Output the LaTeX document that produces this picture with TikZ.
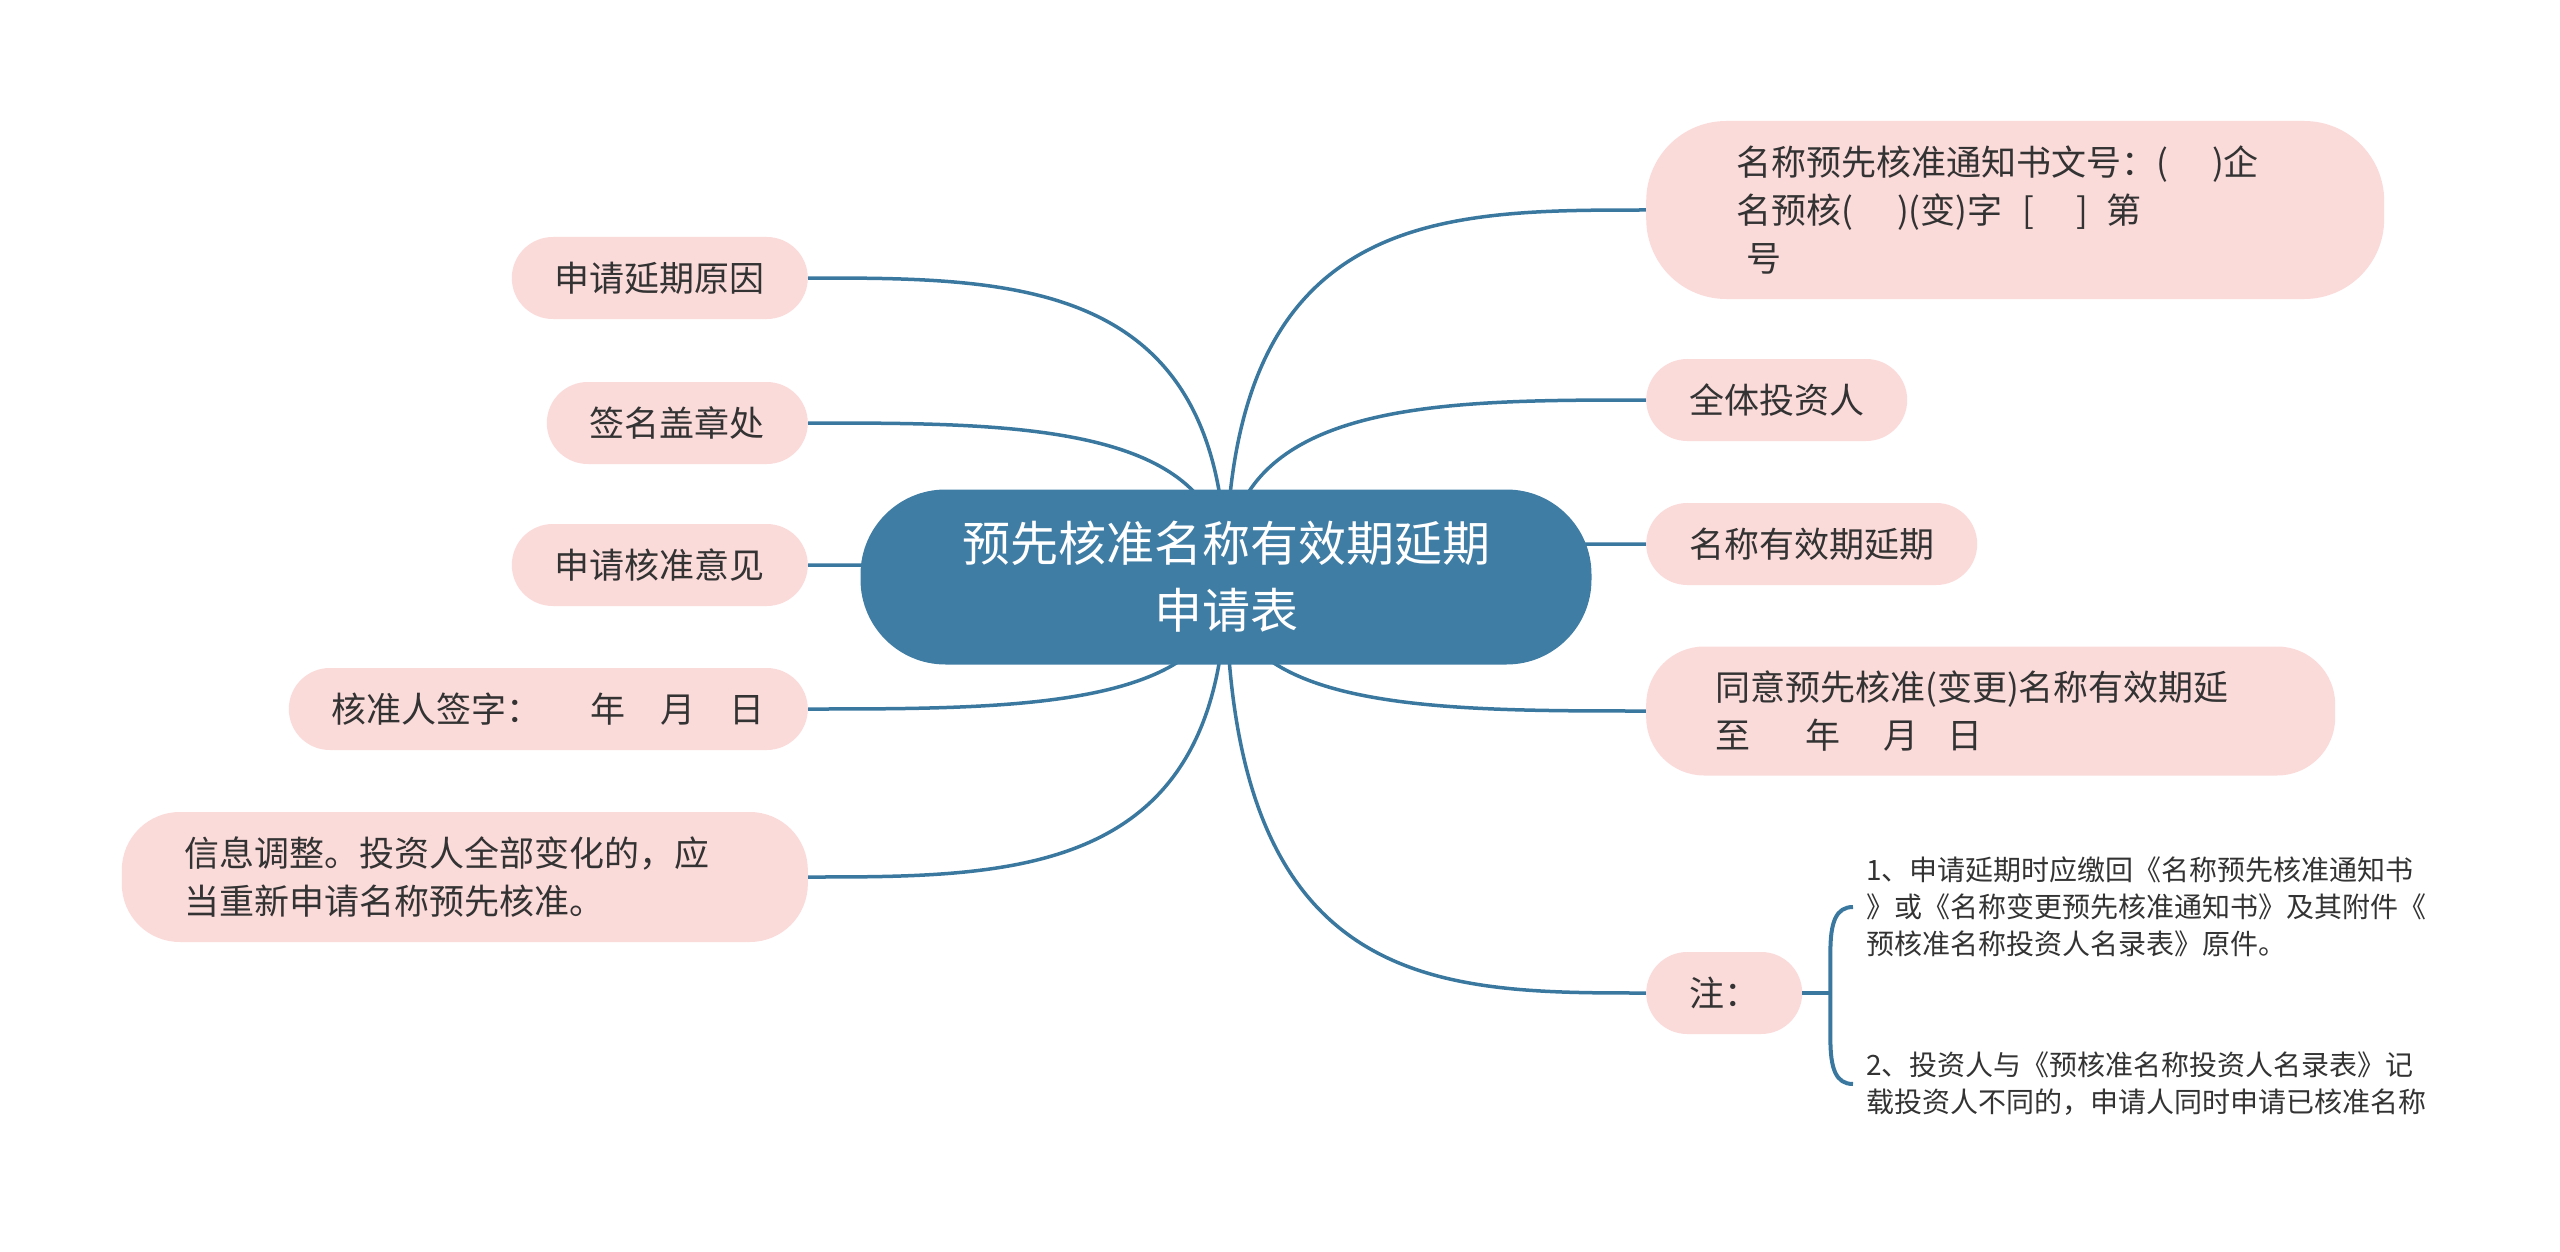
\documentclass[tikz,border=0pt]{standalone}
\usepackage{fontspec}
\setmainfont{Noto Sans CJK SC}
\usetikzlibrary{positioning, calc, backgrounds}
\definecolor{rootblue}{HTML}{3F7DA5}
\definecolor{linkblue}{HTML}{3B78A0}
\definecolor{leafpink}{HTML}{FBDADA}
\definecolor{inkgray}{HTML}{333333}

\begin{document}
\begin{tikzpicture}[x=1pt, y=-1pt,
    root node/.style={fill=rootblue, text=white, rounded corners=85pt, minimum width=731pt,
      minimum height=175pt, align=center, font=\fontsize{48}{67}\selectfont},
    leaf node/.style={fill=leafpink, text=inkgray, rounded corners=41pt, minimum height=82pt,
      inner xsep=43pt, align=left, font=\fontsize{35}{48}\selectfont},
    note text/.style={text=inkgray, align=left, inner xsep=13pt, inner ysep=0pt,
      font=\fontsize{28}{37}\selectfont},
    branch/.style={draw=linkblue, line width=3.5pt,
      to path={.. controls (\tikztostart |- \tikztotarget)
        and ($(\tikztostart |- \tikztotarget)!0.5!(\tikztotarget)$) .. (\tikztotarget)}}]
    \useasboundingbox (0,0) rectangle (2560,1252);

    \node[root node] (root) at (1226,577) {预先核准名称有效期延期\\申请表};

    % left side
    \node[leaf node, anchor=east] (reason) at (808,278) {申请延期原因};
    \node[leaf node, anchor=east] (seal) at (808,423) {签名盖章处};
    \node[leaf node, anchor=east] (opinion) at (808,565) {申请核准意见};
    \node[leaf node, anchor=east] (signer) at (808,709)
      {核准人签字：\hspace{49pt}年\hspace{35pt}月\hspace{34pt}日};
    \node[leaf node, anchor=east, text width=560pt, inner xsep=63pt, minimum height=130pt,
      rounded corners=58pt] (adjust) at (808,877)
      {信息调整。投资人全部变化的，应\\当重新申请名称预先核准。};

    % right side
    \node[leaf node, anchor=west, text width=558pt, inner xsep=90pt, minimum height=178pt,
      rounded corners=80pt] (notice) at (1646,210)
      {名称预先核准通知书文号：(\hspace{44pt})企\\
       名预核(\hspace{44pt})(变)字\hspace{20pt}[\hspace{42pt}]\hspace{18pt}第\\
       \hspace{10pt}号};
    \node[leaf node, anchor=west] (investors) at (1646,400) {全体投资人};
    \node[leaf node, anchor=west] (validity) at (1646,544) {名称有效期延期};
    \node[leaf node, anchor=west, text width=551pt, inner xsep=69pt, minimum height=129pt,
      rounded corners=58pt] (agree) at (1646,711)
      {同意预先核准(变更)名称有效期延\\至\hspace{55pt}年\hspace{43pt}月\hspace{29pt}日};
    \node[leaf node, anchor=west] (note) at (1646,993) {注：};

    \node[note text, anchor=west] (noteA) at (1853,907)
      {1、申请延期时应缴回《名称预先核准通知书\\》或《名称变更预先核准通知书》及其附件《\\预核准名称投资人名录表》原件。};
    \node[note text, anchor=west] (noteB) at (1853,1084)
      {2、投资人与《预核准名称投资人名录表》记\\载投资人不同的，申请人同时申请已核准名称};

    % connectors
    \begin{scope}[on background layer]
    \path[branch]
    (root.center) edge (reason.east)
    (root.center) edge (seal.east)
    (root.center) edge (opinion.east)
    (root.center) edge (signer.east)
    (root.center) edge (adjust.east)
    (root.center) edge (notice.west)
    (root.center) edge (investors.west)
    (root.center) edge (validity.west)
    (root.center) edge (agree.west)
    (root.center) edge (note.west);
    \end{scope}

    % brace for the notes
    \draw[linkblue, line width=4pt] (note.east) -- ++(28,0) coordinate (brace);
    \draw[linkblue, line width=4pt] (noteA.west) .. controls +(-17,0) and +(0,-30) ..
      ($(brace |- noteA.west)+(0,45)$) -- ($(brace |- noteB.west)+(0,-45)$)
      .. controls +(0,30) and +(-17,0) .. (noteB.west);
\end{tikzpicture}
\end{document}
